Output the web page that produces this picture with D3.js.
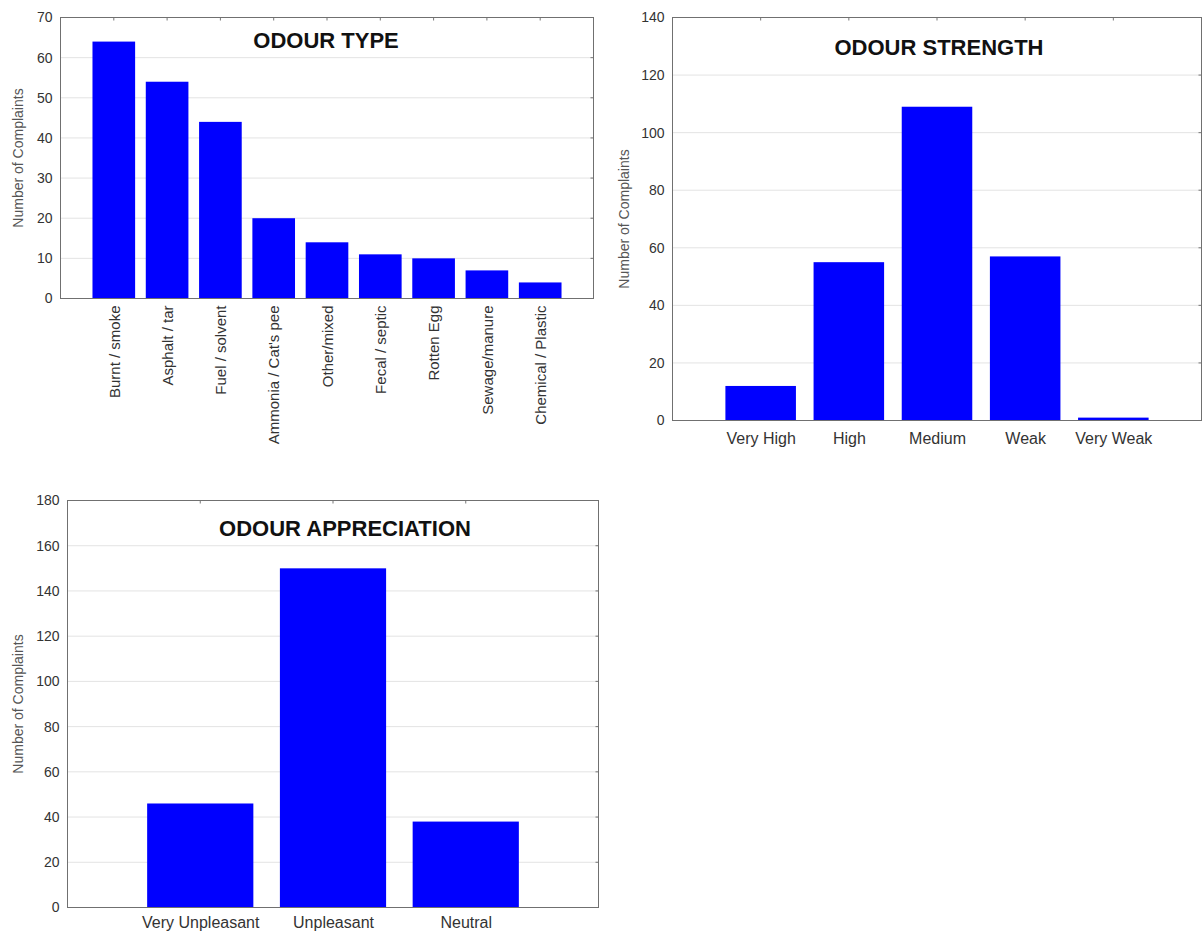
<!DOCTYPE html>
<html>
<head>
<meta charset="utf-8">
<script src="https://cdn.jsdelivr.net/npm/d3@7"></script>
<style>
  body { margin: 0; background: #fff; }
  svg { display: block; font-family: "Liberation Sans", Arial, sans-serif; }
  .tick text { fill: #333; }
</style>
</head>
<body>
<svg id="chart" width="1204" height="937"></svg>
<script>
// ---- Data ----
const typeCategories = ["Burnt / smoke", "Asphalt / tar", "Fuel / solvent", "Ammonia / Cat's pee", "Other/mixed", "Fecal / septic", "Rotten Egg", "Sewage/manure", "Chemical / Plastic"];
const typeValues = [64, 54, 44, 20, 14, 11, 10, 7, 4];
const typeTicks = [0, 10, 20, 30, 40, 50, 60, 70];

const strengthCategories = ["Very High", "High", "Medium", "Weak", "Very Weak"];
const strengthValues = [12, 55, 109, 57, 1];
const strengthTicks = [0, 20, 40, 60, 80, 100, 120, 140];

const appreciationCategories = ["Very Unpleasant", "Unpleasant", "Neutral"];
const appreciationValues = [46, 150, 38];
const appreciationTicks = [0, 20, 40, 60, 80, 100, 120, 140, 160, 180];

const yLabel = "Number of Complaints";

const svg = d3.select("#chart");

function drawPanel(cfg) {
  const { cats, vals, ticks, left, right, top, bottom, title, titleX, titleY, labelX, rotate, xPad } = cfg;
  const g = svg.append("g");
  const x = d3.scalePoint().domain(cats).range([left, right]).padding(1);
  const y = d3.scaleLinear().domain([0, d3.max(ticks)]).range([bottom, top]);
  const bw = x.step() * 0.8;

  // gridlines
  g.append("g").selectAll("line").data(ticks.slice(1, -1)).join("line")
    .attr("x1", left).attr("x2", right)
    .attr("y1", d => y(d)).attr("y2", d => y(d))
    .attr("stroke", "#e3e3e3").attr("stroke-width", 1);

  // bars
  g.append("g").selectAll("rect").data(vals).join("rect")
    .attr("x", (d, i) => x(cats[i]) - bw / 2)
    .attr("width", bw)
    .attr("y", d => y(d))
    .attr("height", d => bottom - y(d))
    .attr("fill", "#0000ff");

  // y axis
  const ya = g.append("g").attr("transform", `translate(${left},0)`)
    .call(d3.axisLeft(y).tickValues(ticks).tickSize(0).tickPadding(8));
  ya.select(".domain").remove();
  ya.selectAll("text").attr("font-size", 14);

  // right ticks
  g.append("g").selectAll("line").data(ticks).join("line")
    .attr("x1", right).attr("x2", right - 3)
    .attr("y1", d => y(d)).attr("y2", d => y(d))
    .attr("stroke", "#777");
  // top ticks
  g.append("g").selectAll("line").data(cats).join("line")
    .attr("x1", d => x(d)).attr("x2", d => x(d))
    .attr("y1", top).attr("y2", top + 3)
    .attr("stroke", "#777");

  // x axis
  const xa = g.append("g").attr("transform", `translate(0,${bottom})`)
    .call(d3.axisBottom(x).tickSize(0).tickPadding(xPad));
  xa.select(".domain").remove();
  if (rotate) {
    xa.selectAll("text")
      .attr("font-size", 15)
      .attr("transform", "rotate(-90)")
      .attr("text-anchor", "end")
      .attr("dy", "0.35em")
      .attr("x", -7).attr("y", 0);
  } else {
    xa.selectAll("text").attr("font-size", 16);
  }

  // frame
  g.append("rect").attr("x", left).attr("y", top)
    .attr("width", right - left).attr("height", bottom - top)
    .attr("fill", "none").attr("stroke", "#707070").attr("stroke-width", 1);

  // title
  g.append("text").attr("x", titleX).attr("y", titleY)
    .attr("text-anchor", "middle")
    .attr("font-size", 22).attr("font-weight", "bold").attr("fill", "#111")
    .text(title);

  // y label
  g.append("text")
    .attr("transform", `translate(${labelX},${(top + bottom) / 2}) rotate(-90)`)
    .attr("text-anchor", "middle").attr("dy", "0.35em")
    .attr("font-size", 14).attr("fill", "#555")
    .text(yLabel);
}

drawPanel({ cats: typeCategories, vals: typeValues, ticks: typeTicks,
  left: 60.5, right: 593.5, top: 17.5, bottom: 298.5,
  title: "ODOUR TYPE", titleX: 326, titleY: 48, labelX: 18, rotate: true, xPad: 0 });

drawPanel({ cats: strengthCategories, vals: strengthValues, ticks: strengthTicks,
  left: 672.5, right: 1201.5, top: 17.5, bottom: 420.5,
  title: "ODOUR STRENGTH", titleX: 939, titleY: 55, labelX: 624, rotate: false, xPad: 12 });

drawPanel({ cats: appreciationCategories, vals: appreciationValues, ticks: appreciationTicks,
  left: 67.5, right: 598.5, top: 500.5, bottom: 907.5,
  title: "ODOUR APPRECIATION", titleX: 345, titleY: 536, labelX: 18, rotate: false, xPad: 9 });
</script>
</body>
</html>
